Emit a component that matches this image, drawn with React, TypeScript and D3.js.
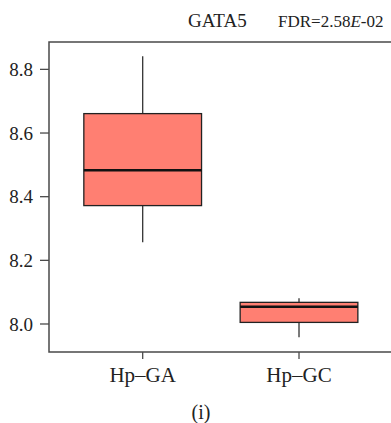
import React from "react";
import { scaleLinear } from "d3";

const categories = ["Hp\u2013GA", "Hp\u2013GC"];
const whiskerLow = [8.257, 7.958];
const q1 = [8.372, 8.005];
const median = [8.483, 8.054];
const q3 = [8.661, 8.068];
const whiskerHigh = [8.841, 8.081];
const yTicks = [8.0, 8.2, 8.4, 8.6, 8.8];

const width = 391;
const height = 423;
const frame = { left: 49, top: 42, bottom: 352, right: 396 };
const boxWidth = 0.753;
const font = "Liberation Serif, DejaVu Serif, serif";
const axisColor = "#4a4a4a";

const App = () => {
  const yScale = scaleLinear().domain([7.912, 8.886]).range([frame.bottom, frame.top]);
  const xScale = scaleLinear().domain([0.4, 2.6]).range([48.9, 392.8]);
  const half = (xScale(1 + boxWidth / 2) - xScale(1 - boxWidth / 2)) / 2;

  return (
    <svg
      width={width}
      height={height}
      style={{ position: "absolute", left: 0, top: 0, fontFamily: font }}
    >
      <rect width={width} height={height} fill="#fff" />

      {/* title */}
      <text x={188} y={27} fontSize={19} fill="#222">GATA5</text>
      <text x={278} y={27} fontSize={17} fill="#222">
        FDR=2.58<tspan fontStyle="italic">E</tspan>-02
      </text>

      {/* boxes */}
      {categories.map((c, i) => {
        const cx = xScale(i + 1);
        return (
          <g key={c}>
            <line x1={cx} x2={cx} y1={yScale(whiskerHigh[i])} y2={yScale(q3[i])} stroke="#333" strokeWidth={1.3} />
            <line x1={cx} x2={cx} y1={yScale(q1[i])} y2={yScale(whiskerLow[i])} stroke="#333" strokeWidth={1.3} />
            <rect
              x={cx - half}
              y={yScale(q3[i])}
              width={half * 2}
              height={yScale(q1[i]) - yScale(q3[i])}
              fill="#FF7F72"
              stroke="#222"
              strokeWidth={1.3}
            />
            <line x1={cx - half} x2={cx + half} y1={yScale(median[i])} y2={yScale(median[i])} stroke="#111" strokeWidth={2.6} />
          </g>
        );
      })}

      {/* frame */}
      <path
        d={`M${frame.right},${frame.top}H${frame.left}V${frame.bottom}H${frame.right}`}
        fill="none"
        stroke={axisColor}
        strokeWidth={1.5}
      />

      {/* y axis */}
      {yTicks.map((t) => (
        <g key={t} transform={`translate(0,${yScale(t)})`}>
          <line x1={40} x2={frame.left} stroke={axisColor} strokeWidth={1.3} />
          <text x={33} dy="0.35em" textAnchor="end" fontSize={19} fill="#222">
            {t.toFixed(1)}
          </text>
        </g>
      ))}

      {/* x axis */}
      {categories.map((c, i) => (
        <g key={c} transform={`translate(${xScale(i + 1)},0)`}>
          <line y1={frame.bottom} y2={359} stroke={axisColor} strokeWidth={1.3} />
          <text y={382} textAnchor="middle" fontSize={21} fill="#222">{c}</text>
        </g>
      ))}

      <text x={201} y={419} textAnchor="middle" fontSize={20} fill="#222">(i)</text>
    </svg>
  );
};

export default App;
